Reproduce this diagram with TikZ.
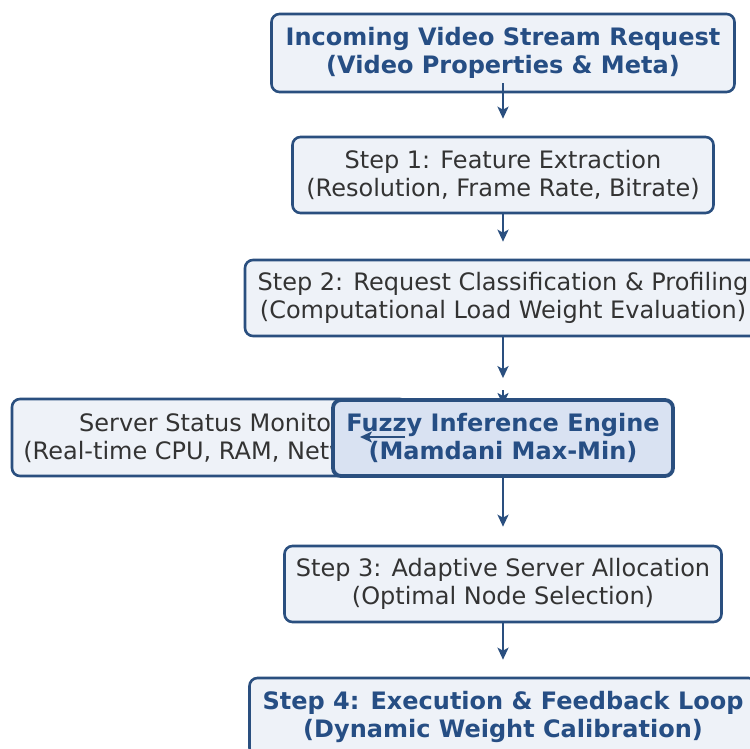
\documentclass[tikz,border=0pt]{standalone}
\usepackage{fontspec}
\setmainfont{DejaVu Sans}
\usetikzlibrary{arrows.meta}
\definecolor{bordc}{RGB}{42,79,127}
\definecolor{boxfill}{RGB}{238,242,248}
\definecolor{fzfill}{RGB}{217,226,242}
\definecolor{bluetxt}{RGB}{38,78,132}
\definecolor{graytxt}{RGB}{51,51,51}
\tikzset{
  x=1pt, y=-1pt,
  flowbox/.style={draw=bordc, line width=2.6pt, rounded corners=8pt, fill=boxfill,
    align=center, inner sep=0pt, text=graytxt,
    font=\fontsize{24}{28}\selectfont},
  keybox/.style={flowbox, text=bluetxt, font=\fontsize{24}{28}\selectfont\bfseries},
  fuzzybox/.style={keybox, fill=fzfill, line width=3.8pt},
  arr/.style={draw=bordc, line width=2.6pt, -{Stealth[length=12pt,width=11pt,inset=3pt]}},
}
\begin{document}
\begin{tikzpicture}
\useasboundingbox (0,0) rectangle (750,749);
\fill[white] (0,0) rectangle (750,749);
\node[keybox, minimum width=463pt, minimum height=78pt] (b1) at (503,53)
  {Incoming Video Stream Request\\(Video Properties \& Meta)};
\node[flowbox, minimum width=421pt, minimum height=76pt] (b2) at (503,175)
  {Step 1: Feature Extraction\\(Resolution, Frame Rate, Bitrate)};
\node[flowbox, minimum width=516pt, minimum height=76pt] (b3) at (503,298)
  {Step 2: Request Classification \& Profiling\\(Computational Load Weight Evaluation)};
\node[flowbox, minimum width=396pt, minimum height=77pt] (srv) at (210,437.5)
  {Server Status Monitor\\(Real-time CPU, RAM, Network)};
\coordinate (hid1) at (503,390);
\coordinate (hid2) at (503,405);
\draw[arr] (hid1) -- (hid2);
\node[fuzzybox, minimum width=340pt, minimum height=76pt] (fz) at (503,438)
  {Fuzzy Inference Engine\\(Mamdani Max-Min)};
\coordinate (la1) at (405,437);
\coordinate (la2) at (360,437);
\draw[arr] (la1) -- (la2);
\node[flowbox, minimum width=437pt, minimum height=76pt] (b5) at (503,584)
  {Step 3: Adaptive Server Allocation\\(Optimal Node Selection)};
\node[keybox, minimum width=507pt, minimum height=78pt] (b6) at (503,717)
  {Step 4: Execution \& Feedback Loop\\(Dynamic Weight Calibration)};
\draw[arr, shorten <=-10pt, shorten >=17pt] (b1.south) -- (b2.north);
\draw[arr, shorten >=17pt] (b2.south) -- (b3.north);
\draw[arr, shorten >=20pt] (b3.south) -- (fz.north);
\draw[arr, shorten >=18pt] (fz.south) -- (b5.north);
\draw[arr, shorten >=17pt] (b5.south) -- (b6.north);
\end{tikzpicture}
\end{document}
